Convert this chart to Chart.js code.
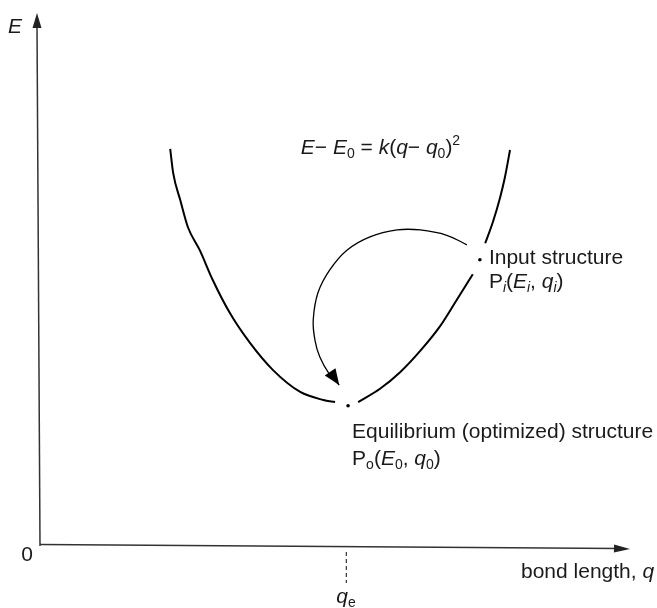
<!DOCTYPE html>
<html>
<head>
<meta charset="utf-8">
<script src="https://cdn.jsdelivr.net/npm/chart.js@4"></script>
<style>
  body { margin: 0; background: #fff; }
  #wrap { width: 657px; height: 608px; }
</style>
</head>
<body>
<div id="wrap"><canvas id="pes" width="657" height="608"></canvas></div>
<script>
// curve (q = bond length, E = energy, arbitrary 0..100 units)
const leftBranchQ = [22.2, 22.7, 23.9, 25.2, 27.2, 29.4, 32.3, 35.7, 39.6, 44.2, 48.1, 50.1];
const leftBranchE = [74.5, 70.0, 64.9, 59.8, 55.5, 49.9, 43.7, 38.1, 33.0, 28.9, 27.4, 27.0];
const rightLowerQ = [54.0, 57.7, 61.1, 64.5, 67.9, 70.7, 73.4];
const rightLowerE = [27.0, 29.5, 32.6, 36.6, 41.3, 46.2, 51.0];
const rightUpperQ = [75.5, 76.8, 78.0, 78.8, 79.7];
const rightUpperE = [56.8, 60.8, 65.3, 69.0, 74.3];

// optimisation path, input point -> minimum
const pathQ = [72.4, 69.0, 64.5, 60.6, 56.0, 52.1, 49.2, 47.2, 46.4, 46.7, 47.5, 49.1, 50.8];
const pathE = [56.5, 58.3, 59.3, 59.3, 58.0, 55.5, 51.8, 47.5, 42.4, 38.6, 35.5, 32.3, 30.2];

// marked structures: input P_i and equilibrium P_o
const pointQ = [74.6, 52.3];
const pointE = [53.7, 26.3];
const qeValue = 52.0;

const toXY = (qs, es) => qs.map((q, i) => ({ x: q, y: es[i] }));
const FONT = '"Liberation Sans", Arial, Helvetica, sans-serif';
const INK = '#1a1a1a';

function rich(ctx, runs, x, y, size) {
  let cx = x;
  for (const r of runs) {
    const s = (r.sub || r.sup) ? Math.round(size * 0.68) : size;
    ctx.font = (r.i ? 'italic ' : '') + s + 'px ' + FONT;
    const dy = r.sub ? size * 0.2 : (r.sup ? -size * 0.45 : 0);
    ctx.fillText(r.t, cx, y + dy);
    cx += ctx.measureText(r.t).width;
  }
  return cx;
}

function arrowHead(ctx, tx, ty, fx, fy, len, half) {
  const a = Math.atan2(ty - fy, tx - fx);
  ctx.beginPath();
  ctx.moveTo(tx, ty);
  ctx.lineTo(tx - len * Math.cos(a) + half * Math.sin(a), ty - len * Math.sin(a) - half * Math.cos(a));
  ctx.lineTo(tx - len * Math.cos(a) - half * Math.sin(a), ty - len * Math.sin(a) + half * Math.cos(a));
  ctx.closePath();
  ctx.fill();
}

const decorations = {
  id: 'decorations',
  afterDraw(chart) {
    const ctx = chart.ctx;
    const xs = chart.scales.x, ys = chart.scales.y;
    const x0 = xs.getPixelForValue(0), y0 = ys.getPixelForValue(0);
    const yTop = ys.getPixelForValue(100), xEnd = xs.getPixelForValue(100);
    ctx.save();
    ctx.strokeStyle = '#333';
    ctx.fillStyle = '#222';
    ctx.lineWidth = 1.5;

    // energy axis (slightly skewed like the scan)
    ctx.beginPath();
    ctx.moveTo(x0 + 1, y0);
    ctx.lineTo(x0 - 2, yTop + 12);
    ctx.stroke();
    arrowHead(ctx, x0 - 2, yTop, x0 - 2, yTop + 20, 15, 4.5);

    // bond length axis
    ctx.beginPath();
    ctx.moveTo(x0 + 1, y0 - 1.5);
    ctx.lineTo(xEnd - 12, y0 + 2.5);
    ctx.stroke();
    arrowHead(ctx, xEnd, y0 + 3, xEnd - 20, y0 + 2.5, 16, 4);

    // q_e dashed marker
    const qx = xs.getPixelForValue(qeValue);
    ctx.setLineDash([4, 3]);
    ctx.lineWidth = 1.2;
    ctx.beginPath();
    ctx.moveTo(qx, y0 + 6);
    ctx.lineTo(qx, y0 + 37);
    ctx.stroke();
    ctx.setLineDash([]);

    // arrow head at the end of the optimisation path
    const n = pathQ.length;
    ctx.fillStyle = '#000';
    arrowHead(ctx, xs.getPixelForValue(pathQ[n - 1]), ys.getPixelForValue(pathE[n - 1]),
      xs.getPixelForValue(pathQ[n - 3]), ys.getPixelForValue(pathE[n - 3]), 16, 6.5);

    // texts
    ctx.fillStyle = INK;
    ctx.textBaseline = 'alphabetic';
    const S = 21;
    rich(ctx, [{ t: 'E', i: true }], x0 - 31, yTop + 20, S);
    ctx.font = S + 'px ' + FONT;
    ctx.textAlign = 'right';
    ctx.fillText('0', x0 - 6, y0 + 15);
    ctx.textAlign = 'left';
    rich(ctx, [{ t: 'q', i: true }, { t: 'e', sub: true }], qx - 10, y0 + 57, S);
    rich(ctx, [{ t: 'bond length, ' }, { t: 'q', i: true }], 521, y0 + 32, S);

    const ex = xs.getPixelForValue(44.3), ey = ys.getPixelForValue(73.5);
    rich(ctx, [
      { t: 'E', i: true }, { t: '\u2212 ' }, { t: 'E', i: true }, { t: '0', sub: true },
      { t: ' = ' }, { t: 'k', i: true }, { t: '(' }, { t: 'q', i: true }, { t: '\u2212 ' },
      { t: 'q', i: true }, { t: '0', sub: true }, { t: ')' }, { t: '2', sup: true }
    ], ex, ey, S);

    const ix = xs.getPixelForValue(pointQ[0]) + 9, iy = ys.getPixelForValue(pointE[0]) + 4;
    rich(ctx, [{ t: 'Input structure' }], ix, iy, S);
    rich(ctx, [
      { t: 'P' }, { t: 'i', i: true, sub: true }, { t: '(' }, { t: 'E', i: true },
      { t: 'i', i: true, sub: true }, { t: ', ' }, { t: 'q', i: true }, { t: 'i', i: true, sub: true }, { t: ')' }
    ], ix, iy + 24, S);

    const ox = xs.getPixelForValue(pointQ[1]) + 4, oy = ys.getPixelForValue(pointE[1]) + 32;
    rich(ctx, [{ t: 'Equilibrium (optimized) structure' }], ox, oy, S);
    rich(ctx, [
      { t: 'P' }, { t: 'o', sub: true }, { t: '(' }, { t: 'E', i: true },
      { t: '0', sub: true }, { t: ', ' }, { t: 'q', i: true }, { t: '0', sub: true }, { t: ')' }
    ], ox, oy + 27, S);
    ctx.restore();
  }
};

const curveStyle = { showLine: true, borderColor: '#000', borderWidth: 2, pointRadius: 0, cubicInterpolationMode: 'monotone', clip: false };

new Chart(document.getElementById('pes'), {
  type: 'scatter',
  data: {
    datasets: [
      Object.assign({ data: toXY(leftBranchQ, leftBranchE) }, curveStyle),
      Object.assign({ data: toXY(rightLowerQ, rightLowerE) }, curveStyle),
      Object.assign({ data: toXY(rightUpperQ, rightUpperE) }, curveStyle),
      Object.assign({ data: toXY(pathQ, pathE) }, curveStyle, { cubicInterpolationMode: 'default', tension: 0.4, borderWidth: 1.3 }),
      { data: toXY(pointQ, pointE), pointRadius: 1.8, pointBackgroundColor: '#000', pointBorderWidth: 0, clip: false }
    ]
  },
  options: {
    responsive: false,
    animation: false,
    layout: { padding: { left: 39, right: 27, top: 13, bottom: 62 } },
    plugins: { legend: { display: false }, tooltip: { enabled: false } },
    scales: {
      x: { type: 'linear', min: 0, max: 100, display: false },
      y: { type: 'linear', min: 0, max: 100, display: false }
    }
  },
  plugins: [decorations]
});
</script>
</body>
</html>
